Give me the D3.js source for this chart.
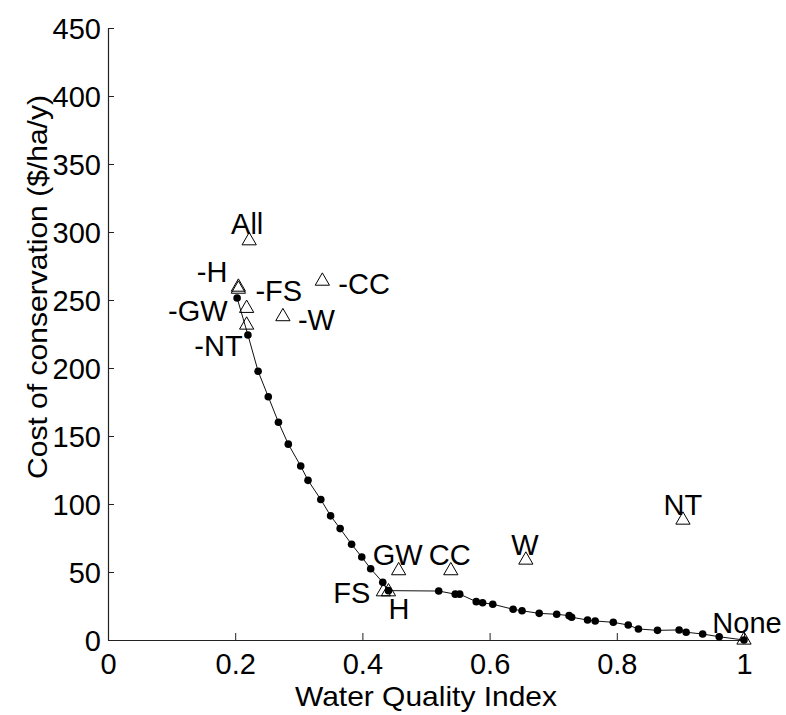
<!DOCTYPE html>
<html>
<head>
<meta charset="utf-8">
<script src="https://cdn.jsdelivr.net/npm/d3@7/dist/d3.min.js"></script>
<style>
  html, body { margin: 0; padding: 0; background: #fff; }
  svg text { font-family: "Liberation Sans", Arial, Helvetica, sans-serif; fill: #000; }
</style>
</head>
<body>
<svg id="chart" width="786" height="715"></svg>
<script>
// Efficient frontier: water quality index vs. cost of conservation
const frontierWqi = [
  0.203, 0.220, 0.236, 0.252, 0.268, 0.2835, 0.303, 0.3145, 0.3346, 0.350,
  0.365, 0.383, 0.399, 0.413, 0.432, 0.441, 0.520, 0.546, 0.553, 0.579,
  0.589, 0.605, 0.637, 0.651, 0.678, 0.7055, 0.725, 0.729, 0.754, 0.766,
  0.7945, 0.818, 0.834, 0.864, 0.898, 0.909, 0.935, 0.961, 1.0
];
const frontierCost = [
  251.5, 224.3, 197.6, 178.9, 160.1, 144.0, 127.9, 117.4, 103.3, 91.3,
  81.9, 70.4, 61.0, 52.4, 42.4, 36.3, 36.0, 33.7, 33.7, 28.2,
  27.4, 26.3, 22.6, 21.5, 19.6, 18.9, 17.9, 16.7, 14.7, 14.0,
  13.0, 11.0, 8.1, 7.1, 7.4, 5.7, 4.4, 2.4, 0
];

// Single-practice scenarios (open triangles)
const scenarioNames = ["All", "-H", "-FS", "-CC", "-W", "-GW", "-NT", "GW", "CC", "FS", "H", "W", "NT", "None"];
const scenarioWqi   = [0.222, 0.205, 0.205, 0.337, 0.275, 0.218, 0.218, 0.457, 0.539, 0.433, 0.441, 0.657, 0.904, 1.0];
const scenarioCost  = [293.6, 259.5, 258.0, 263.9, 237.8, 243.9, 231.6, 51.0, 51.0, 35.5, 35.5, 58.8, 88.2, 0];

const xTicks = [0, 0.2, 0.4, 0.6, 0.8, 1];
const xTickLabels = ["0", "0.2", "0.4", "0.6", "0.8", "1"];
const yTicks = [0, 50, 100, 150, 200, 250, 300, 350, 400, 450];

const xTitle = "Water Quality Index";
const yTitle = "Cost of conservation ($/ha/y)";

// ---- layout ----
const svg = d3.select("#chart");
const x = d3.scaleLinear().domain([0, 1]).range([108, 744]);
const y = d3.scaleLinear().domain([0, 450]).range([640, 28]);

// Label placement around each scenario marker: anchor, dx, dy (baseline)
const labelPlace = {
  "All":  ["middle", -2, -7],
  "-H":   ["end", -11, -5],
  "-FS":  ["start", 17, 12],
  "-CC":  ["start", 16, 13],
  "-W":   ["start", 15, 13],
  "-GW":  ["end", -19, 13],
  "-NT":  ["end", -4, 31],
  "GW":   ["middle", -1, -6],
  "CC":   ["middle", -1, -6],
  "FS":   ["end", -13, 11],
  "H":    ["start", 0, 27],
  "W":    ["middle", -1, -5],
  "NT":   ["middle", 0, -5],
  "None": ["middle", 3, -7]
};

// ---- axes (left and bottom only, ticks pointing inward) ----
const xAxis = d3.axisBottom(x)
  .tickValues(xTicks)
  .tickFormat((d, i) => xTickLabels[i])
  .tickSizeInner(-7).tickSizeOuter(0).tickPadding(15);
const yAxis = d3.axisLeft(y)
  .tickValues(yTicks)
  .tickFormat(d3.format("d"))
  .tickSizeInner(-6).tickSizeOuter(0).tickPadding(12);

const gx = svg.append("g").attr("transform", `translate(0,${y(0)})`).call(xAxis);
const gy = svg.append("g").attr("transform", `translate(${x(0)},0)`).call(yAxis);

[gx, gy].forEach(g => {
  g.select(".domain").attr("stroke", "#222").attr("stroke-width", 1.2);
  g.selectAll(".tick line").attr("stroke", "#222").attr("stroke-width", 1);
  g.selectAll(".tick text").attr("font-size", 29).attr("fill", "#000")
    .style("font-family", "'Liberation Sans', Arial, sans-serif");
});
gx.selectAll(".tick text").attr("dy", null).attr("y", 34);
gy.selectAll(".tick text").attr("dy", "0.36em").attr("x", -7);

// axis titles
svg.append("text")
  .attr("x", (x(0) + x(1)) / 2).attr("y", 706)
  .attr("text-anchor", "middle").attr("font-size", 28)
  .attr("textLength", 262).attr("lengthAdjust", "spacingAndGlyphs")
  .text(xTitle);

svg.append("text")
  .attr("transform", `translate(47,287) rotate(-90)`)
  .attr("text-anchor", "middle").attr("font-size", 28)
  .attr("textLength", 384).attr("lengthAdjust", "spacingAndGlyphs")
  .text(yTitle);

// ---- frontier line and dots ----
const frontier = frontierWqi.map((w, i) => [w, frontierCost[i]]);
svg.append("path")
  .datum(frontier)
  .attr("fill", "none").attr("stroke", "#111").attr("stroke-width", 1)
  .attr("d", d3.line().x(d => x(d[0])).y(d => y(d[1])));

svg.append("g").selectAll("circle")
  .data(frontier).join("circle")
  .attr("cx", d => x(d[0])).attr("cy", d => y(d[1]))
  .attr("r", 3.8).attr("fill", "#000");

// ---- scenario triangles and labels ----
const scenarios = scenarioNames.map((n, i) => ({ name: n, w: scenarioWqi[i], c: scenarioCost[i] }));
const tri = d3.symbol().type(d3.symbolTriangle).size(88);

svg.append("g").selectAll("path")
  .data(scenarios).join("path")
  .attr("d", tri)
  .attr("transform", d => `translate(${x(d.w)},${y(d.c)})`)
  .attr("fill", "none").attr("stroke", "#000").attr("stroke-width", 1);

svg.append("g").selectAll("text")
  .data(scenarios).join("text")
  .attr("x", d => x(d.w) + labelPlace[d.name][1])
  .attr("y", d => y(d.c) + labelPlace[d.name][2])
  .attr("text-anchor", d => labelPlace[d.name][0])
  .attr("font-size", 29)
  .text(d => d.name);
</script>
</body>
</html>
